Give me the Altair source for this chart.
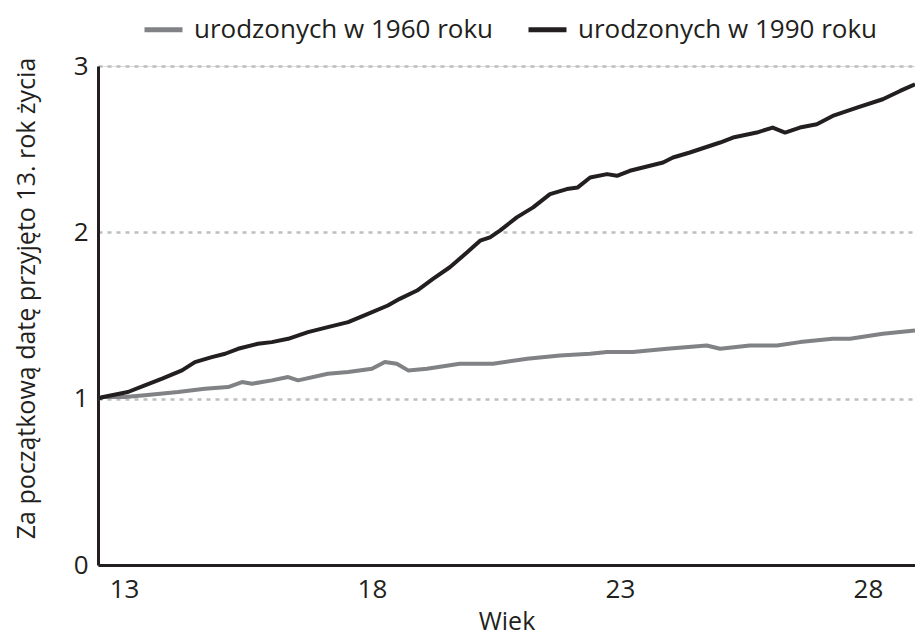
import altair as alt
import pandas as pd

series_names = ["urodzonych w 1960 roku", "urodzonych w 1990 roku"]

age_1960 = [12.48, 12.58, 13.02, 13.42, 14.09, 14.63, 15.10, 15.38, 15.58, 15.98,
            16.31, 16.51, 17.11, 17.52, 18.00, 18.26, 18.50, 18.73, 19.11, 19.77,
            20.44, 21.13, 21.79, 22.40, 22.74, 23.26, 23.95, 24.75, 25.02, 25.62,
            26.17, 26.63, 27.29, 27.64, 28.30, 28.95]
val_1960 = [1.00, 1.01, 1.01, 1.02, 1.04, 1.06, 1.07, 1.10, 1.09, 1.11,
            1.13, 1.11, 1.15, 1.16, 1.18, 1.22, 1.21, 1.17, 1.18, 1.21,
            1.21, 1.24, 1.26, 1.27, 1.28, 1.28, 1.30, 1.32, 1.30, 1.32,
            1.32, 1.34, 1.36, 1.36, 1.39, 1.41]

age_1990 = [12.48, 12.58, 13.08, 13.42, 13.77, 14.17, 14.43, 14.77, 15.04, 15.30,
            15.70, 15.98, 16.31, 16.71, 17.11, 17.52, 17.92, 18.32, 18.56, 18.91,
            19.23, 19.57, 19.92, 20.18, 20.38, 20.58, 20.92, 21.25, 21.59, 21.93,
            22.15, 22.40, 22.74, 22.94, 23.20, 23.87, 24.07, 24.41, 25.02, 25.28,
            25.76, 26.08, 26.33, 26.63, 26.97, 27.29, 27.78, 28.30, 28.65, 28.95]
val_1990 = [1.00, 1.01, 1.04, 1.08, 1.12, 1.17, 1.22, 1.25, 1.27, 1.30,
            1.33, 1.34, 1.36, 1.40, 1.43, 1.46, 1.51, 1.56, 1.60, 1.65,
            1.72, 1.79, 1.88, 1.95, 1.97, 2.01, 2.09, 2.15, 2.23, 2.26,
            2.27, 2.33, 2.35, 2.34, 2.37, 2.42, 2.45, 2.48, 2.54, 2.57,
            2.60, 2.63, 2.60, 2.63, 2.65, 2.70, 2.75, 2.80, 2.85, 2.89]

x_ticks = [13, 18, 23, 28]
y_ticks = [0, 1, 2, 3]

df = pd.concat([
    pd.DataFrame({"age": age_1960, "value": val_1960, "series": series_names[0], "order": range(len(age_1960))}),
    pd.DataFrame({"age": age_1990, "value": val_1990, "series": series_names[1], "order": range(len(age_1990))}),
])

FONT = "Open Sans"
TXT = "#231f20"

chart = alt.Chart(df).mark_line(strokeWidth=4, strokeJoin="round", clip=True).encode(
    x=alt.X("age:Q",
            scale=alt.Scale(domain=[12.476, 28.95], nice=False, zero=False),
            axis=alt.Axis(values=x_ticks, title="Wiek", ticks=False, grid=False,
                          labelFontSize=26, titleFontSize=25, labelPadding=11,
                          titlePadding=7, domainWidth=3, domainColor=TXT,
                          labelColor=TXT, titleColor=TXT, titleFontWeight="normal",
                          labelFont=FONT, titleFont=FONT)),
    y=alt.Y("value:Q",
            scale=alt.Scale(domain=[0, 3], nice=False),
            axis=alt.Axis(values=y_ticks, title="Za początkową datę przyjęto 13. rok życia",
                          ticks=False, grid=True, gridDash=[4, 5], gridColor="#bcbec0",
                          gridWidth=2.5, labelFontSize=26, titleFontSize=25,
                          labelPadding=10, titleX=-72, titleY=232,
                          titleBaseline="middle", titleAlign="center",
                          domainWidth=3,
                          domainColor=TXT, labelColor=TXT, titleColor=TXT,
                          titleFontWeight="normal", labelFont=FONT, titleFont=FONT)),
    color=alt.Color("series:N",
                    scale=alt.Scale(domain=series_names, range=["#808285", TXT]),
                    legend=alt.Legend(title=None, orient="none", direction="horizontal",
                                      legendX=44, legendY=-58, symbolType="stroke",
                                      symbolSize=1444, symbolStrokeWidth=5,
                                      labelFontSize=26, labelFont=FONT, labelColor=TXT,
                                      labelLimit=0, columnPadding=24, labelOffset=9,
                                      columns=2)),
    order="order:Q",
).properties(
    width=817, height=499,
    autosize=alt.AutoSizeParams(type="none"),
    padding={"left": 90, "top": 58, "right": 0, "bottom": 72},
).configure_view(stroke=None).configure(font=FONT)

chart.save("out.html", embed_options={"renderer": "svg", "actions": False})
